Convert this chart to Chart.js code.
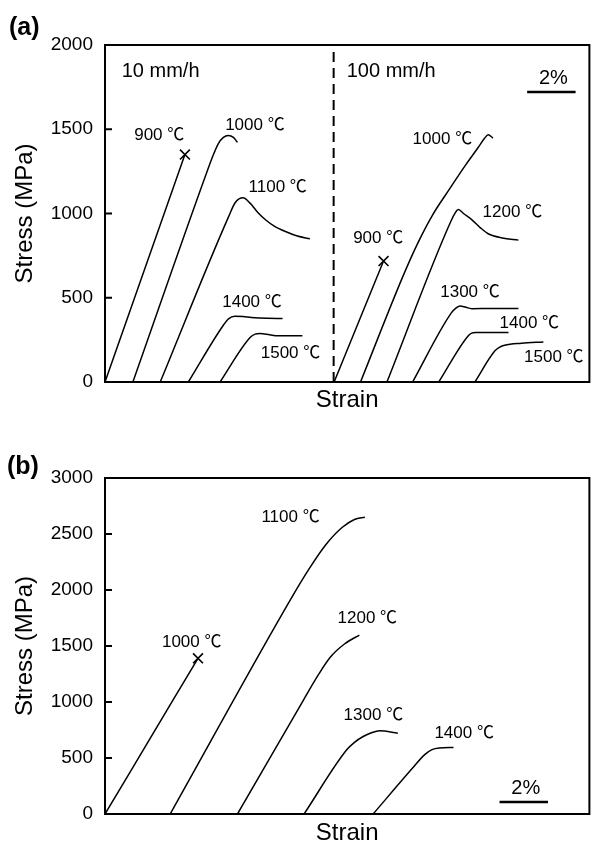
<!DOCTYPE html>
<html>
<head>
<meta charset="utf-8">
<script src="https://cdn.jsdelivr.net/npm/chart.js@4"></script>
<style>
  html, body { margin: 0; padding: 0; background: #fff; }
  #wrap { position: relative; width: 598px; height: 845px; }
  .panel { position: absolute; left: 0; width: 598px; height: 420px; }
  .tag { position: absolute; font: bold 25px "Liberation Sans", Arial, sans-serif; line-height: 28px; }
</style>
</head>
<body>
<div id="wrap">
  <div class="panel" style="top:0"><canvas id="chartA" width="598" height="420"></canvas></div>
  <div class="panel" style="top:425px"><canvas id="chartB" width="598" height="420"></canvas></div>
  <div class="tag" style="left:9px; top:12px;">(a)</div>
  <div class="tag" style="left:7px; top:451px;">(b)</div>
</div>
<script>
// ---- data (strain in %, stress in MPa) ----

// (a) 10 mm/h
const slowTemps = [900, 1000, 1100, 1400, 1500];
const slowStrain = [
    [0, 1.65, 3.30],
    [1.15, 4.20, 4.45, 4.68, 4.89, 5.09, 5.30, 5.47],
    [2.28, 5.10, 5.38, 5.70, 6.00, 6.31, 6.65, 6.99, 7.50, 7.94, 8.46],
    [3.44, 4.90, 5.10, 5.36, 5.70, 6.04, 6.70, 7.33],
    [4.75, 6.00, 6.20, 6.40, 6.80, 7.13, 8.15]
];
const slowStress = [
    [0, 675, 1350],
    [0, 1244, 1340, 1415, 1452, 1463, 1452, 1422],
    [0, 980, 1065, 1093, 1060, 1006, 960, 925, 890, 866, 850],
    [0, 340, 375, 390, 388, 383, 378, 377],
    [0, 265, 284, 288, 280, 274, 274]
];

// (a) 100 mm/h
const fastTemps = [900, 1000, 1200, 1300, 1400, 1500];
const fastStrain = [
    [9.46, 10.48, 11.50],
    [10.55, 12.30, 12.90, 13.50, 14.20, 14.90, 15.40, 15.68, 15.82, 16.02],
    [11.64, 14.30, 14.46, 14.59, 14.80, 15.14, 15.50, 15.82, 16.40, 17.07],
    [12.70, 14.30, 14.50, 14.66, 14.90, 15.14, 16.00, 17.07],
    [13.78, 15.00, 15.14, 15.30, 16.00, 16.66],
    [15.27, 16.10, 16.30, 16.50, 17.20, 18.10]
];
const fastStress = [
    [0, 359, 718],
    [0, 627, 820, 985, 1140, 1290, 1390, 1448, 1467, 1448],
    [0, 960, 1004, 1024, 1000, 964, 915, 880, 855, 842],
    [0, 410, 440, 451, 443, 435, 436, 436],
    [0, 275, 290, 294, 294, 294],
    [0, 185, 207, 218, 230, 238]
];

// (b)
const bTemps = [1000, 1100, 1200, 1300, 1400];
const bStrain = [
    [0, 1.92, 3.84],
    [2.69, 7.70, 8.40, 9.10, 9.80, 10.30, 10.73],
    [5.47, 8.20, 8.80, 9.30, 9.90, 10.50],
    [8.22, 9.98, 10.30, 10.66, 11.00, 11.34, 12.09],
    [11.07, 12.70, 13.20, 13.50, 13.80, 14.39]
];
const bStress = [
    [0, 695, 1390],
    [0, 1930, 2180, 2400, 2560, 2630, 2650],
    [0, 1020, 1240, 1400, 1520, 1598],
    [0, 573, 640, 692, 725, 743, 722],
    [0, 410, 530, 575, 590, 594]
];

const rateSplit = 9.44;          // strain where the 100 mm/h part starts
const yTicksA = [0, 2000, 500];  // min, max, step
const yTicksB = [0, 3000, 500];

// ---- layout of the annotations (data units) ----
const slowLabelPos = [[2.24, 1466], [6.19, 1525], [7.13, 1157], [6.07, 475], [7.66, 172]];
const fastLabelPos = [[11.28, 855], [13.93, 1442], [16.82, 1009], [15.07, 534], [17.52, 350], [18.53, 148]];
const bLabelPos = [[3.58, 1536], [7.66, 2652], [10.83, 1750], [11.08, 884], [14.83, 723]];

const FONT = '"Liberation Sans", Arial, "Noto Sans CJK SC", sans-serif';

function toPoints(xs, ys) {
    return xs.map((x, i) => ({ x: x, y: ys[i] }));
}

function curveSets(strains, stresses) {
    return strains.map((xs, i) => ({
        data: toPoints(xs, stresses[i]),
        showLine: true,
        borderColor: '#000',
        borderWidth: 1.5,
        pointRadius: 0,
        cubicInterpolationMode: 'monotone'
    }));
}

// fracture mark at the end of a curve
function breakSet(xs, ys) {
    const n = xs.length - 1;
    return {
        data: [{ x: xs[n], y: ys[n] }],
        showLine: false,
        pointStyle: 'crossRot',
        pointRadius: 7,
        borderColor: '#000',
        borderWidth: 1.6
    };
}

function tempLabels(temps, pos) {
    return temps.map((t, i) => ({ text: t + ' ℃', x: pos[i][0], y: pos[i][1], size: 17 }));
}

const textPlugin = {
    id: 'texts',
    afterDatasetsDraw(chart, args, opts) {
        const { ctx, scales: { x, y } } = chart;
        ctx.save();
        ctx.fillStyle = '#000';
        ctx.textBaseline = 'middle';
        (opts.items || []).forEach(it => {
            ctx.font = it.size + 'px ' + FONT;
            ctx.textAlign = it.align || 'center';
            ctx.fillText(it.text, x.getPixelForValue(it.x), y.getPixelForValue(it.y));
        });
        ctx.restore();
    }
};

const framePlugin = {
    id: 'frame',
    afterDraw(chart, args, opts) {
        const { ctx, chartArea: a, scales: { x, y } } = chart;
        ctx.save();
        ctx.strokeStyle = '#000';
        ctx.lineWidth = 2;
        ctx.strokeRect(a.left, a.top, a.right - a.left, a.bottom - a.top);
        // inward ticks on the stress axis
        ctx.beginPath();
        y.ticks.forEach(t => {
            const py = y.getPixelForValue(t.value);
            ctx.moveTo(a.left, py);
            ctx.lineTo(a.left + 7, py);
        });
        ctx.stroke();
        // 2 % scale bar
        if (opts.bar) {
            const bx = opts.bar[0], by = opts.bar[1];
            const x1 = x.getPixelForValue(bx), x2 = x.getPixelForValue(bx + 2);
            const py = y.getPixelForValue(by);
            ctx.lineWidth = 2.5;
            ctx.beginPath();
            ctx.moveTo(x1, py);
            ctx.lineTo(x2, py);
            ctx.stroke();
            ctx.fillStyle = '#000';
            ctx.font = '20px ' + FONT;
            ctx.textAlign = 'center';
            ctx.textBaseline = 'bottom';
            ctx.fillText('2%', (x1 + x2) / 2 + 2, py - 4);
        }
        ctx.restore();
    }
};

function makeOptions(yt, pad, xHeight, texts, bar) {
    return {
        responsive: false,
        animation: false,
        layout: { padding: pad },
        plugins: {
            legend: { display: false },
            tooltip: { enabled: false },
            texts: { items: texts },
            frame: { bar: bar }
        },
        scales: {
            x: {
                type: 'linear', min: 0, max: 20,
                ticks: { display: false },
                grid: { display: false, drawTicks: false },
                border: { display: false },
                title: {
                    display: true, text: 'Strain', color: '#000',
                    font: { family: FONT, size: 24, lineHeight: 1 },
                    padding: { top: 0, bottom: 0 }
                },
                afterFit(scale) { scale.height = xHeight; }
            },
            y: {
                min: yt[0], max: yt[1],
                ticks: {
                    stepSize: yt[2], color: '#000', font: { family: FONT, size: 19 }, padding: 12,
                    callback: v => String(v)
                },
                grid: { display: false, drawTicks: false },
                border: { display: false },
                title: {
                    display: true, text: 'Stress (MPa)', color: '#000',
                    font: { family: FONT, size: 24, lineHeight: 1 },
                    padding: { top: 13, bottom: 0 }
                },
                afterFit(scale) { scale.width = 105; }
            }
        }
    };
}

// ---- (a) ----
const setsA = curveSets(slowStrain, slowStress)
    .concat(curveSets(fastStrain, fastStress))
    .concat([
        breakSet(slowStrain[0], slowStress[0]),
        breakSet(fastStrain[0], fastStress[0]),
        {
            data: [{ x: rateSplit, y: yTicksA[0] }, { x: rateSplit, y: yTicksA[1] }],
            showLine: true, borderColor: '#000', borderWidth: 2,
            borderDash: [10, 6], pointRadius: 0
        }
    ]);

const textsA = tempLabels(slowTemps, slowLabelPos)
    .concat(tempLabels(fastTemps, fastLabelPos))
    .concat([
        { text: '10 mm/h', x: 0.69, y: 1840, size: 20, align: 'left' },
        { text: '100 mm/h', x: 9.98, y: 1840, size: 20, align: 'left' }
    ]);

new Chart(document.getElementById('chartA'), {
    type: 'scatter',
    data: { datasets: setsA },
    options: makeOptions(yTicksA, { left: 0, right: 2, top: 45, bottom: 8 }, 30, textsA, [17.43, 1721]),
    plugins: [textPlugin, framePlugin]
});

// ---- (b) ----
const setsB = curveSets(bStrain, bStress).concat([breakSet(bStrain[0], bStress[0])]);
const textsB = tempLabels(bTemps, bLabelPos);

new Chart(document.getElementById('chartB'), {
    type: 'scatter',
    data: { datasets: setsB },
    options: makeOptions(yTicksB, { left: 0, right: 1, top: 53, bottom: 0 }, 31, textsB, [16.29, 107]),
    plugins: [textPlugin, framePlugin]
});
</script>
</body>
</html>
